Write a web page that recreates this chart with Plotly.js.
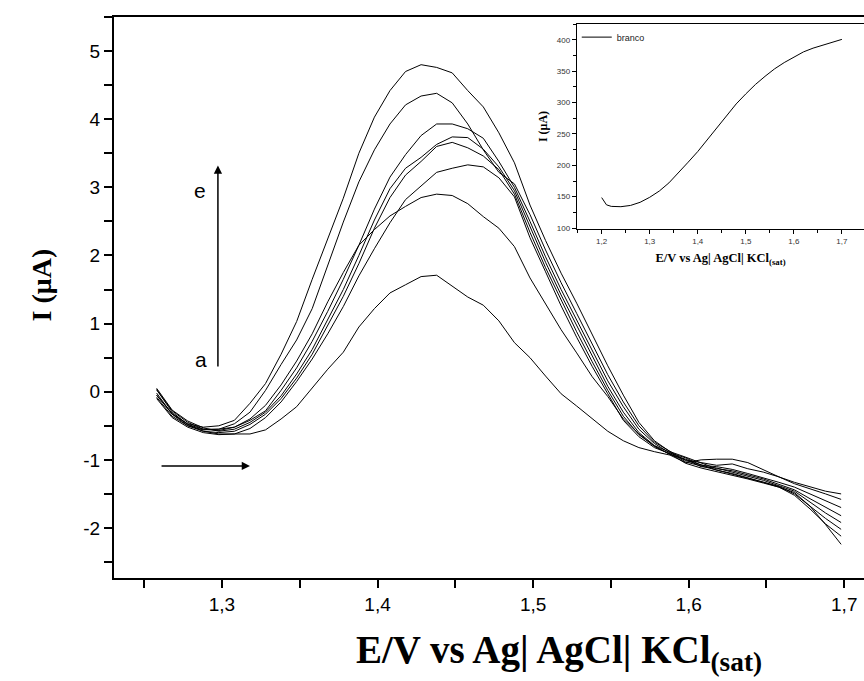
<!DOCTYPE html>
<html>
<head>
<meta charset="utf-8">
<script src="https://cdn.plot.ly/plotly-3.0.1.min.js"></script>
<style>html,body{margin:0;padding:0;background:#fff;}#chart{width:864px;height:681px;}</style>
</head>
<body>
<div id="chart"></div>
<script>
// Potential (V) for the main voltammograms
const potential = [1.258,1.268,1.278,1.288,1.298,1.308,1.318,1.328,1.338,1.348,1.358,1.368,1.378,1.388,1.398,1.408,1.418,1.428,1.438,1.448,1.458,1.468,1.478,1.488,1.498,1.508,1.518,1.528,1.538,1.548,1.558,1.568,1.578,1.588,1.598,1.608,1.618,1.628,1.638,1.648,1.658,1.668,1.678,1.688,1.698];

// Current (µA) for the eight curves
const curveA = [-0.05,-0.33,-0.47,-0.52,-0.50,-0.42,-0.17,0.12,0.55,1.03,1.65,2.25,2.84,3.50,4.03,4.42,4.70,4.80,4.76,4.68,4.42,4.18,3.80,3.36,2.74,2.22,1.74,1.30,0.84,0.38,-0.05,-0.45,-0.72,-0.88,-0.96,-1.05,-1.13,-1.16,-1.22,-1.28,-1.36,-1.44,-1.57,-1.70,-1.82];
const curveB = [0.03,-0.28,-0.45,-0.55,-0.55,-0.47,-0.30,0.02,0.40,0.76,1.22,1.85,2.49,3.08,3.55,3.93,4.21,4.34,4.38,4.24,3.93,3.55,3.22,3.05,2.60,2.08,1.60,1.15,0.70,0.25,-0.15,-0.50,-0.74,-0.87,-1.01,-1.07,-1.15,-1.20,-1.26,-1.32,-1.39,-1.50,-1.68,-1.86,-2.02];
const curveC = [-0.02,-0.33,-0.50,-0.56,-0.55,-0.52,-0.42,-0.28,0.02,0.35,0.74,1.18,1.65,2.15,2.68,3.15,3.48,3.76,3.93,3.93,3.86,3.72,3.38,3.00,2.50,1.98,1.50,1.05,0.60,0.16,-0.22,-0.55,-0.76,-0.90,-0.97,-1.08,-1.10,-1.14,-1.20,-1.26,-1.33,-1.40,-1.50,-1.60,-1.70];
const curveD = [0.05,-0.27,-0.43,-0.53,-0.58,-0.55,-0.45,-0.30,-0.06,0.26,0.62,1.05,1.50,2.00,2.52,2.98,3.28,3.44,3.63,3.74,3.73,3.56,3.30,2.95,2.42,1.90,1.42,0.97,0.52,0.08,-0.30,-0.60,-0.79,-0.89,-1.03,-1.09,-1.14,-1.21,-1.27,-1.33,-1.40,-1.52,-1.72,-1.94,-2.12];
const curveE = [-0.08,-0.36,-0.50,-0.58,-0.60,-0.58,-0.48,-0.33,-0.10,0.20,0.55,0.97,1.40,1.88,2.40,2.85,3.18,3.38,3.60,3.66,3.58,3.46,3.26,2.90,2.34,1.82,1.34,0.88,0.44,0.02,-0.36,-0.63,-0.80,-0.92,-0.99,-1.10,-1.12,-1.18,-1.24,-1.30,-1.38,-1.46,-1.62,-1.78,-1.92];
const curveF = [-0.10,-0.38,-0.52,-0.60,-0.63,-0.62,-0.54,-0.38,-0.15,0.15,0.48,0.85,1.25,1.70,2.10,2.48,2.82,3.02,3.22,3.28,3.33,3.30,3.14,2.86,2.26,1.76,1.26,0.80,0.37,-0.03,-0.42,-0.66,-0.82,-0.91,-1.05,-1.12,-1.17,-1.22,-1.28,-1.34,-1.40,-1.48,-1.68,-1.95,-2.24];
const curveG = [-0.05,-0.32,-0.48,-0.55,-0.57,-0.52,-0.40,-0.20,0.10,0.45,0.85,1.32,1.75,2.15,2.38,2.58,2.72,2.85,2.90,2.88,2.76,2.57,2.40,2.13,1.67,1.30,0.91,0.57,0.22,-0.07,-0.40,-0.62,-0.80,-0.92,-1.00,-1.04,-1.08,-1.06,-1.13,-1.18,-1.25,-1.35,-1.42,-1.50,-1.58];
const curveH = [0.03,-0.30,-0.48,-0.58,-0.62,-0.62,-0.62,-0.56,-0.40,-0.22,0.05,0.33,0.58,0.95,1.22,1.45,1.57,1.69,1.71,1.55,1.39,1.27,1.04,0.72,0.50,0.23,-0.03,-0.21,-0.39,-0.58,-0.72,-0.82,-0.88,-0.93,-1.04,-1.00,-0.99,-0.99,-1.04,-1.14,-1.25,-1.33,-1.40,-1.46,-1.50];

// Inset: blank ("branco")
const insetPotential = [1.20,1.21,1.22,1.24,1.26,1.28,1.30,1.32,1.34,1.36,1.38,1.40,1.42,1.44,1.46,1.48,1.50,1.52,1.54,1.56,1.58,1.60,1.62,1.64,1.66,1.68,1.70];
const insetCurrent = [148.5,137,134.5,134,136,141,149,159,172,188,205,222,241,259,279,298,314,329,342,354,364,373,381,387,392,397,401];

// Tick labels
const mainXTickVals = [1.3,1.4,1.5,1.6,1.7];
const mainXTickText = ['1,3','1,4','1,5','1,6','1,7'];
const mainYTickVals = [-2,-1,0,1,2,3,4,5];
const mainYTickText = ['-2','-1','0','1','2','3','4','5'];
const insetXTickVals = [1.2,1.3,1.4,1.5,1.6,1.7];
const insetXTickText = ['1,2','1,3','1,4','1,5','1,6','1,7'];
const insetYTickVals = [100,150,200,250,300,350,400];
const insetYTickText = ['100','150','200','250','300','350','400'];

const curves = [curveA,curveB,curveC,curveD,curveE,curveF,curveG,curveH];

const traces = curves.map(c => ({
  x: potential, y: c, type: 'scatter', mode: 'lines',
  line: {color: '#000', width: 1}, showlegend: false, hoverinfo: 'skip',
  xaxis: 'x', yaxis: 'y'
}));
traces.push({
  x: insetPotential, y: insetCurrent, type: 'scatter', mode: 'lines',
  name: 'branco', line: {color: '#000', width: 1}, showlegend: true,
  xaxis: 'x2', yaxis: 'y2'
});

const serif = 'Liberation Serif, Times New Roman, serif';
const sans = 'Liberation Sans, Arial, sans-serif';

const layout = {
  width: 864, height: 681,
  margin: {l: 114, r: 0, t: 17, b: 103},
  paper_bgcolor: '#fff', plot_bgcolor: '#fff',
  showlegend: true,
  legend: {x: 0.617, y: 0.99, xanchor: 'left', yanchor: 'top', bgcolor: 'rgba(0,0,0,0)',
           font: {family: sans, size: 9, color: '#222'}, itemwidth: 30},
  xaxis: {
    domain: [0, 1], anchor: 'y', range: [1.2306, 1.7127],
    showgrid: false, zeroline: false, showline: true, linecolor: '#000', linewidth: 2, mirror: true,
    ticks: 'outside', ticklen: 8, tickwidth: 2, tickcolor: '#000',
    tickmode: 'array', tickvals: mainXTickVals, ticktext: mainXTickText,
    minor: {tickmode: 'linear', tick0: 1.25, dtick: 0.1, ticks: 'outside', ticklen: 8, tickwidth: 2, tickcolor: '#000'},
    tickfont: {family: sans, size: 19, color: '#000'}
  },
  yaxis: {
    domain: [0, 1], anchor: 'x', range: [-2.734, 5.5],
    showgrid: false, zeroline: false, showline: true, linecolor: '#000', linewidth: 2,
    ticks: 'outside', ticklen: 8, tickwidth: 2, tickcolor: '#000',
    tickmode: 'array', tickvals: mainYTickVals, ticktext: mainYTickText,
    minor: {tickmode: 'linear', tick0: -2.5, dtick: 1, ticks: 'outside', ticklen: 8, tickwidth: 2, tickcolor: '#000'},
    tickfont: {family: sans, size: 19, color: '#000'}
  },
  xaxis2: {
    domain: [0.6173, 1], anchor: 'y2', range: [1.1486, 1.746],
    showgrid: false, zeroline: false, showline: true, linecolor: '#000', linewidth: 1.2, mirror: true,
    ticks: 'outside', ticklen: 4, tickwidth: 1, tickcolor: '#000',
    tickmode: 'array', tickvals: insetXTickVals, ticktext: insetXTickText,
    minor: {tickmode: 'linear', tick0: 1.15, dtick: 0.1, ticks: 'outside', ticklen: 3, tickwidth: 1, tickcolor: '#000'},
    tickfont: {family: sans, size: 8, color: '#333'},
    title: {text: '<b>E/V vs Ag| AgCl| KCl<sub>(sat)</sub></b>', font: {family: serif, size: 12.5, color: '#000'}, standoff: 8}
  },
  yaxis2: {
    domain: [0.6221, 0.9875], anchor: 'x2', range: [98.4, 425.5],
    showgrid: false, zeroline: false, showline: true, linecolor: '#000', linewidth: 1.2,
    ticks: 'outside', ticklen: 4, tickwidth: 1, tickcolor: '#000',
    tickmode: 'array', tickvals: insetYTickVals, ticktext: insetYTickText,
    minor: {tickmode: 'linear', tick0: 125, dtick: 50, ticks: 'outside', ticklen: 3, tickwidth: 1, tickcolor: '#000'},
    tickfont: {family: sans, size: 8, color: '#333'},
    title: {text: '<b>I (μA)</b>', font: {family: serif, size: 12, color: '#000'}, standoff: 6}
  },
  annotations: [
    // main axis titles, placed as in the original
    {xref: 'paper', yref: 'paper', x: 0.593, y: -0.132, xanchor: 'center', yanchor: 'middle',
     text: '<b>E/V vs Ag| AgCl| KCl<sub>(sat)</sub></b>', showarrow: false,
     font: {family: serif, size: 39, color: '#000'}},
    {xref: 'paper', yref: 'paper', x: -0.097, y: 0.522, xanchor: 'center', yanchor: 'middle',
     text: '<b>I (μA)</b>', textangle: -90, showarrow: false,
     font: {family: serif, size: 28, color: '#000'}},
    {xref: 'x', yref: 'y', axref: 'x', ayref: 'y', x: 1.2974, y: 3.32, ax: 1.2974, ay: 0.35,
     showarrow: true, arrowhead: 2, arrowsize: 1.1, arrowwidth: 1.5, arrowcolor: '#000', text: ''},
    {xref: 'x', yref: 'y', axref: 'x', ayref: 'y', x: 1.318, y: -1.09, ax: 1.2602, ay: -1.09,
     showarrow: true, arrowhead: 2, arrowsize: 1.1, arrowwidth: 1.5, arrowcolor: '#000', text: ''},
    {xref: 'x', yref: 'y', x: 1.2859, y: 2.96, text: 'e', showarrow: false,
     font: {family: sans, size: 21, color: '#000'}},
    {xref: 'x', yref: 'y', x: 1.2865, y: 0.47, text: 'a', showarrow: false,
     font: {family: sans, size: 21, color: '#000'}}
  ]
};

Plotly.newPlot('chart', traces, layout, {displayModeBar: false, staticPlot: true});
</script>
</body>
</html>
